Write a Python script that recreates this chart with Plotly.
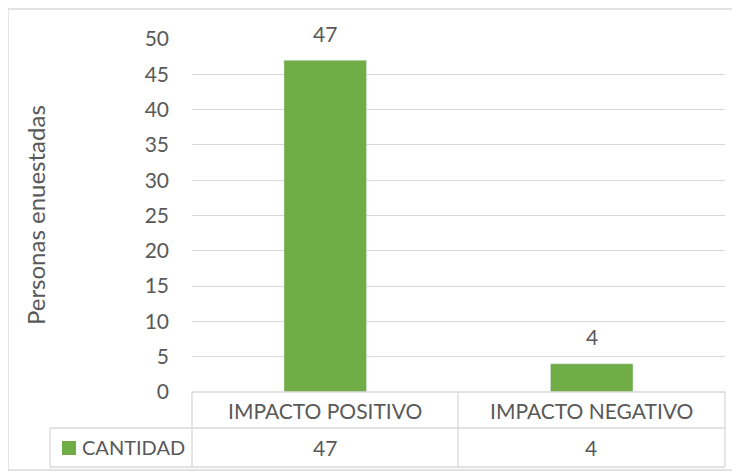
import plotly.graph_objects as go

categories = ["IMPACTO POSITIVO", "IMPACTO NEGATIVO"]
values = [47, 4]
series_name = "CANTIDAD"
y_title = "Personas enuestadas"
y_ticks = [0, 5, 10, 15, 20, 25, 30, 35, 40, 45, 50]

GREEN = "#70AD47"
TXT = "#595959"
GRID = "#D9D9D9"
FONT = "Lato, sans-serif"
FS = 21

OFF = 8  # page body margin offset
W, H = 740 - OFF, 475 - OFF
# plot area in reference pixel coords: x 192..725, y 39..392
PL, PR, PT, PB = 192, 725, 39, 392
L, R, T, B = PL - OFF, W - (PR - OFF), PT - OFF, H - (PB - OFF)

fig = go.Figure()
fig.add_trace(go.Bar(x=categories, y=values, marker_color=GREEN, width=0.31,
                     name=series_name, showlegend=False))

for c, v in zip(categories, values):
    fig.add_annotation(x=c, y=v, text=str(v), showarrow=False, yanchor="middle",
                       yshift=27, font=dict(size=FS, color=TXT, family=FONT))

def px(x):
    return (x - PL) / (PR - PL)

def py(y):
    return (PB - y) / (PB - PT)

line = dict(color=GRID, width=1.3)
shapes = []
shapes.append(dict(type="line", xref="paper", yref="paper", x0=px(192), x1=px(725), y0=py(392), y1=py(392), line=line))
shapes.append(dict(type="line", xref="paper", yref="paper", x0=px(50), x1=px(725), y0=py(428), y1=py(428), line=line))
shapes.append(dict(type="line", xref="paper", yref="paper", x0=px(50), x1=px(725), y0=py(467), y1=py(467), line=line))
for xv in [192, 458, 725]:
    shapes.append(dict(type="line", xref="paper", yref="paper", x0=px(xv), x1=px(xv), y0=py(392), y1=py(467), line=line))
shapes.append(dict(type="line", xref="paper", yref="paper", x0=px(50), x1=px(50), y0=py(428), y1=py(467), line=line))
shapes.append(dict(type="rect", xref="paper", yref="paper", x0=px(8), x1=px(735), y0=py(9), y1=py(470),
                   line=dict(color=GRID, width=1.3)))
shapes.append(dict(type="rect", xref="paper", yref="paper", x0=px(62), x1=px(76), y0=py(441), y1=py(455),
                   line=dict(width=0), fillcolor=GREEN))
fig.update_layout(shapes=shapes)

cat_centers = [325, 591]
for cx, c, v in zip(cat_centers, categories, values):
    fig.add_annotation(xref="paper", yref="paper", x=px(cx), y=py(410), text=c, showarrow=False,
                       xanchor="center", yanchor="middle", font=dict(size=FS, color=TXT, family=FONT))
    fig.add_annotation(xref="paper", yref="paper", x=px(cx), y=py(447), text=str(v), showarrow=False,
                       xanchor="center", yanchor="middle", font=dict(size=FS, color=TXT, family=FONT))
fig.add_annotation(xref="paper", yref="paper", x=px(80), y=py(447), text=series_name, showarrow=False,
                   xanchor="left", yanchor="middle", font=dict(size=20, color=TXT, family=FONT))
fig.add_annotation(xref="paper", yref="paper", x=px(35), y=py(215), text=y_title, showarrow=False,
                   textangle=-90, xanchor="center", yanchor="middle", font=dict(size=24, color=TXT, family=FONT))

fig.update_layout(
    width=W, height=H,
    margin=dict(l=L, r=R, t=T, b=B),
    paper_bgcolor="white", plot_bgcolor="white",
    font=dict(family=FONT, color=TXT, size=FS),
    xaxis=dict(showticklabels=False, showgrid=False, showline=False, zeroline=False, ticks=""),
    yaxis=dict(range=[0, 50], tickvals=y_ticks, showgrid=True, gridcolor=GRID, gridwidth=1.3,
               zeroline=False, showline=False, ticks="", ticklabelstandoff=22,
               tickfont=dict(size=FS, color=TXT, family=FONT)),
)

fig.write_html("out.html")
